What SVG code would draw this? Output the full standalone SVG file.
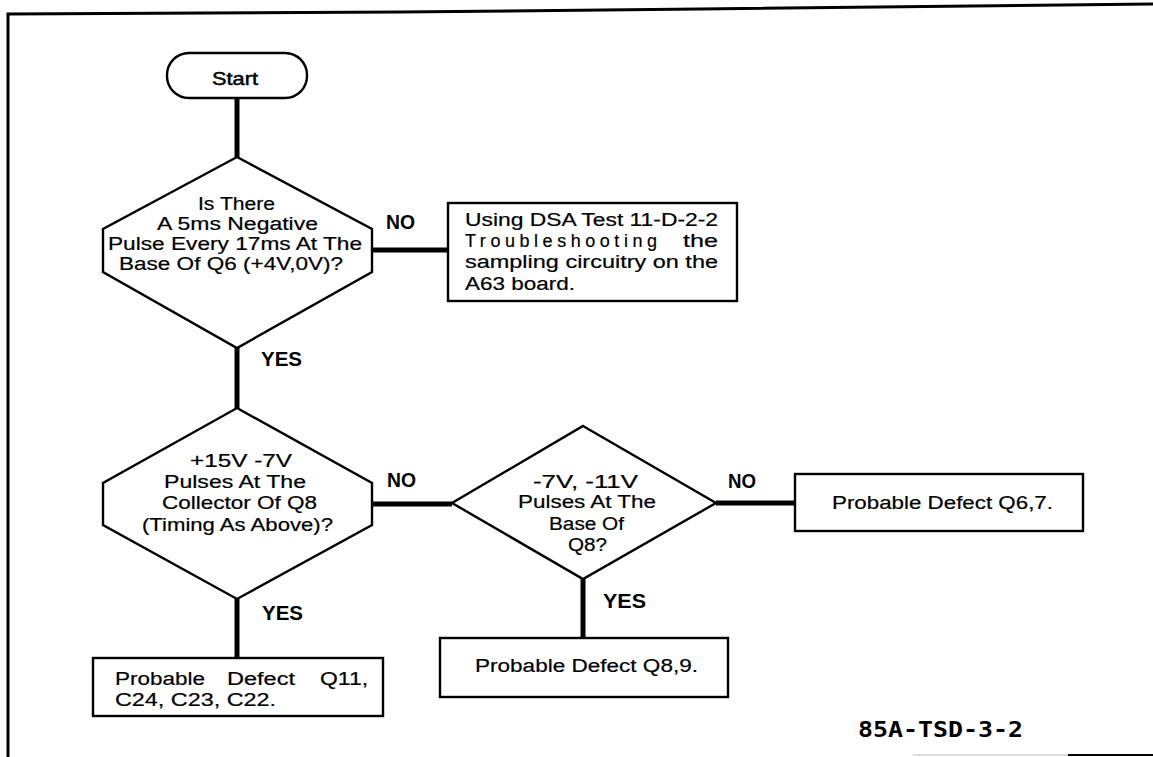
<svg xmlns="http://www.w3.org/2000/svg" width="1153" height="757" viewBox="0 0 1153 757">
<style>
.shape{fill:#fff;stroke:#000;stroke-width:2.4}
.conn{stroke:#000;stroke-width:5;fill:none}
.frame{stroke:#000;stroke-width:3;fill:none}
.t{font-family:"Liberation Sans",Arial,sans-serif;font-size:18px;fill:#000;stroke:#000;stroke-width:0.2}
.lbl{font-family:"Liberation Sans",Arial,sans-serif;font-size:20px;font-weight:bold;fill:#000}
.st{font-family:"Liberation Sans",Arial,sans-serif;font-size:19px;fill:#000;stroke:#000;stroke-width:0.5}
.code{font-family:"DejaVu Sans Mono","Liberation Mono",monospace;font-size:21px;font-weight:bold;fill:#000}
</style>
<rect width="1153" height="757" fill="#fff"/>
<g id="frame">
<polyline class="frame" points="8,757 8,14 400,12 700,9 1153,4"/>
<line x1="913" y1="755" x2="1068" y2="755" stroke="#bbb" stroke-width="1"/>
<line x1="1068" y1="755" x2="1153" y2="755" stroke="#000" stroke-width="2"/>
</g>
<g id="connectors">
<line class="conn" x1="237" y1="97" x2="237" y2="158"/>
<line class="conn" x1="372" y1="250" x2="448" y2="250"/>
<line class="conn" x1="237" y1="348" x2="237" y2="409"/>
<line class="conn" x1="372" y1="504" x2="452" y2="504"/>
<line class="conn" x1="716" y1="503" x2="795" y2="503"/>
<line class="conn" x1="237" y1="599" x2="237" y2="658"/>
<line class="conn" x1="583" y1="579" x2="583" y2="638"/>
<text class="lbl" x="386" y="229" textLength="29" lengthAdjust="spacingAndGlyphs">NO</text>
<text class="lbl" x="261" y="366" textLength="41" lengthAdjust="spacingAndGlyphs">YES</text>
<text class="lbl" x="387" y="487" textLength="29" lengthAdjust="spacingAndGlyphs">NO</text>
<text class="lbl" x="262" y="620" textLength="41" lengthAdjust="spacingAndGlyphs">YES</text>
<text class="lbl" x="728" y="488" textLength="28" lengthAdjust="spacingAndGlyphs">NO</text>
<text class="lbl" x="603" y="608" textLength="43" lengthAdjust="spacingAndGlyphs">YES</text>
</g>
<g id="start">
<rect class="shape" x="167" y="53" width="140" height="45" rx="22" ry="22"/>
<text class="st" x="212" y="85" textLength="46" lengthAdjust="spacingAndGlyphs">Start</text>
</g>
<g id="q1">
<polygon class="shape" points="237,157 372,229 372,272 237,348 103,272 103,229"/>
<text class="t" x="198" y="210" textLength="77" lengthAdjust="spacingAndGlyphs">Is There</text>
<text class="t" x="157" y="230" textLength="161" lengthAdjust="spacingAndGlyphs">A 5ms Negative</text>
<text class="t" x="108" y="250" textLength="254" lengthAdjust="spacingAndGlyphs">Pulse Every 17ms At The</text>
<text class="t" x="119" y="270" textLength="224" lengthAdjust="spacingAndGlyphs">Base Of Q6 (+4V,0V)?</text>
</g>
<g id="box1">
<rect class="shape" x="448" y="203" width="289" height="98"/>
<text class="t" x="465" y="226" textLength="253" lengthAdjust="spacingAndGlyphs">Using DSA Test 11-D-2-2</text>
<text class="t" y="247"><tspan x="465" textLength="192" lengthAdjust="spacing">Troubleshooting</tspan><tspan x="683" textLength="35" lengthAdjust="spacingAndGlyphs">the</tspan></text>
<text class="t" x="465" y="268" textLength="253" lengthAdjust="spacingAndGlyphs">sampling circuitry on the</text>
<text class="t" x="465" y="290" textLength="110" lengthAdjust="spacingAndGlyphs">A63 board.</text>
</g>
<g id="q2">
<polygon class="shape" points="237,408 372,483 372,525 237,599 103,525 103,483"/>
<text class="t" x="190" y="467" textLength="102" lengthAdjust="spacingAndGlyphs">+15V -7V</text>
<text class="t" x="164" y="488" textLength="142" lengthAdjust="spacingAndGlyphs">Pulses At The</text>
<text class="t" x="162" y="509" textLength="155" lengthAdjust="spacingAndGlyphs">Collector Of Q8</text>
<text class="t" x="142" y="531" textLength="191" lengthAdjust="spacingAndGlyphs">(Timing As Above)?</text>
</g>
<g id="q3">
<polygon class="shape" points="583,426 716,503 583,579 452,503"/>
<text class="t" x="533" y="488" textLength="105" lengthAdjust="spacingAndGlyphs">-7V, -11V</text>
<text class="t" x="518" y="508" textLength="138" lengthAdjust="spacingAndGlyphs">Pulses At The</text>
<text class="t" x="549" y="530" textLength="75" lengthAdjust="spacingAndGlyphs">Base Of</text>
<text class="t" x="568" y="551" textLength="39" lengthAdjust="spacingAndGlyphs">Q8?</text>
</g>
<g id="box_q67">
<rect class="shape" x="795" y="474" width="288" height="57"/>
<text class="t" x="832" y="509" textLength="221" lengthAdjust="spacingAndGlyphs">Probable Defect Q6,7.</text>
</g>
<g id="box_q11">
<rect class="shape" x="93" y="658" width="290" height="58"/>
<text class="t" y="685"><tspan x="115" textLength="90" lengthAdjust="spacingAndGlyphs">Probable</tspan><tspan x="227" textLength="68" lengthAdjust="spacingAndGlyphs">Defect</tspan><tspan x="320" textLength="48" lengthAdjust="spacingAndGlyphs">Q11,</tspan></text>
<text class="t" x="115" y="706" textLength="161" lengthAdjust="spacingAndGlyphs">C24, C23, C22.</text>
</g>
<g id="box_q89">
<rect class="shape" x="440" y="638" width="288" height="59"/>
<text class="t" x="475" y="672" textLength="223" lengthAdjust="spacingAndGlyphs">Probable Defect Q8,9.</text>
</g>
<g id="code">
<text class="code" x="858" y="737" textLength="165" lengthAdjust="spacingAndGlyphs">85A-TSD-3-2</text>
</g>
</svg>
